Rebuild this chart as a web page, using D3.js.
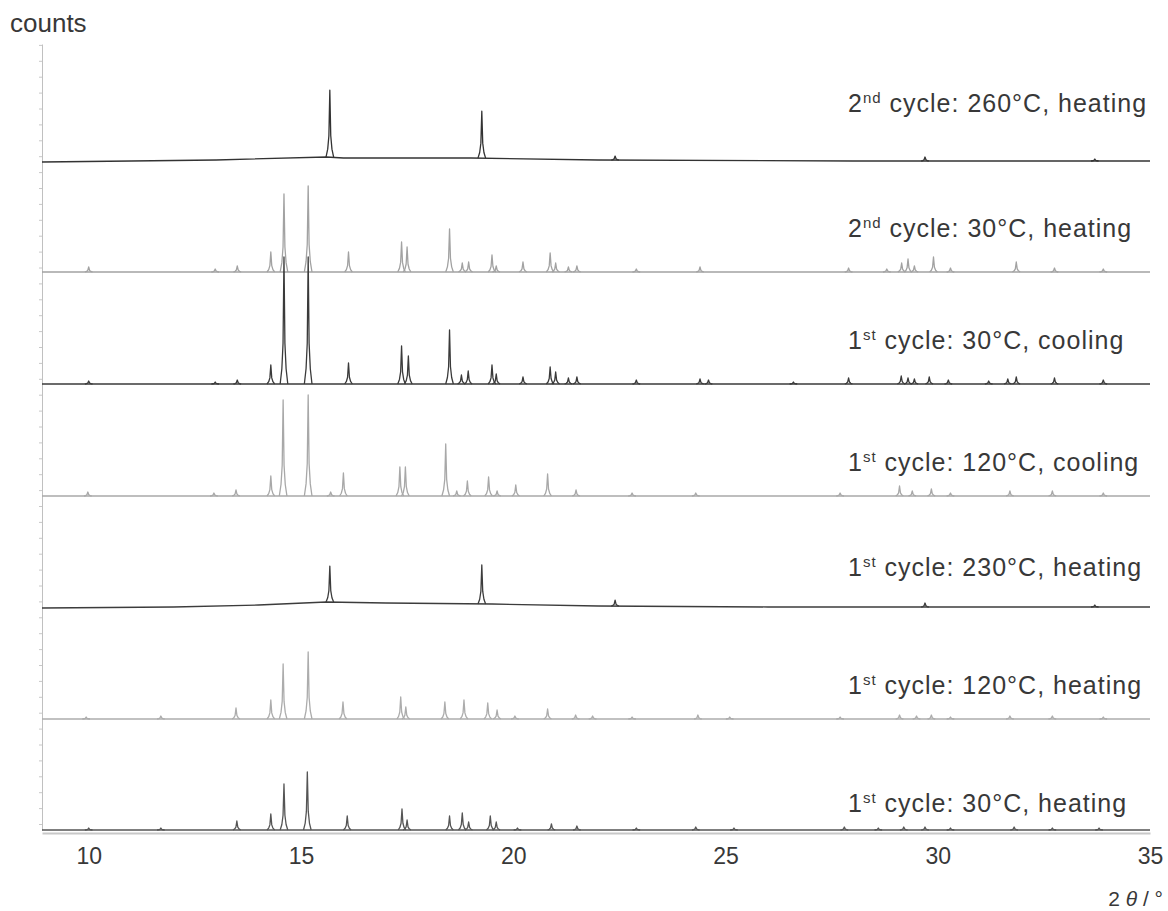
<!doctype html>
<html>
<head>
<meta charset="utf-8">
<style>
    body { margin: 0; background: #fff; }
    svg { display: block; }
    text { font-family: 'Liberation Sans', Arial, sans-serif; fill: #383838; }
    .label { font-size: 25px; letter-spacing: 1px; }
    .xaxis text { font-size: 23px; fill: #383838; }
    .xaxis path { stroke: #c8c8c8; stroke-width: 2; }
    .yaxis path { stroke: #c0c0c0; }
    .yaxis line { stroke: #c8c8c8; }
    .trace { fill: none; stroke-width: 1.3; stroke-linejoin: round; }
</style>
<script src="https://d3js.org/d3.v7.min.js"></script>
</head>
<body>
<svg width="1168" height="911"></svg>
<script>
    // x axis ticks (2 theta, degrees)
    const xTicks = [10, 15, 20, 25, 30, 35]

    // label text, top trace first
    const cycleNo  = ['2', '2', '1', '1', '1', '1', '1']
    const ordinal  = ['nd', 'nd', 'st', 'st', 'st', 'st', 'st']
    const condition = [' cycle: 260°C, heating', ' cycle: 30°C, heating', ' cycle: 30°C, cooling',
                       ' cycle: 120°C, cooling', ' cycle: 230°C, heating', ' cycle: 120°C, heating',
                       ' cycle: 30°C, heating']

    // vertical offset of each pattern and where its label sits (counts)
    const offsets = [670, 558, 446, 334, 223, 111, 0]
    const labelLevels = [718, 593, 481, 359, 254, 136, 18]

    // peaks: [2theta, height above baseline]
    const p260h2 = [[15.68, 67], [19.26, 47], [22.4, 4], [29.7, 4], [33.7, 2]]
    const p30h2 = [[10.0, 5], [12.98, 3], [13.5, 6], [14.29, 20], [14.6, 78], [15.17, 86], [16.12, 20],
        [17.37, 30], [17.5, 25], [18.5, 43], [18.8, 9], [18.95, 10], [19.5, 17], [19.6, 6], [20.23, 10],
        [20.87, 19], [21.0, 9], [21.3, 5], [21.5, 6], [22.9, 3], [24.4, 5], [27.9, 4], [28.8, 3],
        [29.15, 9], [29.3, 13], [29.45, 6], [29.9, 15], [30.3, 4], [31.85, 10], [32.75, 4], [33.9, 3]]
    const p30c1 = [[10.0, 3], [12.98, 2], [13.5, 4], [14.29, 19], [14.6, 127], [15.17, 127], [16.12, 21],
        [17.37, 38], [17.53, 28], [18.5, 54], [18.78, 9], [18.94, 13], [19.5, 19], [19.6, 10], [20.23, 7],
        [20.87, 17], [21.0, 12], [21.3, 6], [21.5, 7], [22.9, 4], [24.4, 5], [24.6, 4], [26.6, 2],
        [27.9, 6], [29.14, 8], [29.3, 6], [29.45, 5], [29.8, 7], [30.25, 4], [31.2, 3], [31.65, 5],
        [31.85, 7], [32.75, 6], [33.9, 4]]
    const p120c1 = [[9.98, 4], [12.95, 3], [13.47, 6], [14.29, 20], [14.58, 96], [15.17, 101], [15.7, 4],
        [16.0, 23], [17.33, 29], [17.46, 29], [18.41, 52], [18.67, 5], [18.92, 15], [19.42, 19], [19.62, 5],
        [20.06, 11], [20.81, 22], [21.48, 6], [22.8, 3], [24.3, 3], [27.7, 3], [29.1, 10], [29.4, 5],
        [29.85, 7], [30.3, 3], [31.7, 5], [32.7, 5], [33.9, 3]]
    const p230h1 = [[15.68, 36], [19.26, 39], [22.4, 6], [29.7, 4], [33.7, 2]]
    const p120h1 = [[9.94, 2], [11.7, 3], [13.47, 11], [14.29, 19], [14.58, 55], [15.17, 67], [15.99, 17],
        [17.35, 22], [17.47, 12], [18.39, 17], [18.84, 19], [19.4, 16], [19.62, 9], [20.04, 3], [20.81, 10],
        [21.47, 4], [21.87, 3], [22.8, 2], [24.35, 4], [25.1, 2], [27.7, 2], [29.1, 4], [29.5, 3],
        [29.85, 4], [30.3, 2], [31.7, 3], [32.7, 3], [33.9, 2]]
    const p30h1 = [[10.0, 2], [11.7, 2], [13.49, 9], [14.29, 16], [14.6, 46], [15.15, 58], [16.09, 14],
        [17.38, 21], [17.5, 10], [18.5, 14], [18.8, 17], [18.95, 8], [19.46, 14], [19.6, 8], [20.1, 2],
        [20.9, 6], [21.5, 4], [22.9, 2], [24.3, 3], [25.2, 2], [27.8, 3], [28.6, 2], [29.2, 3], [29.7, 3],
        [30.3, 2], [31.8, 3], [32.7, 2], [33.8, 2]]

    // background drift: [2theta, counts above offset]
    const bg260h2 = [[8.9, -2], [11, -1], [13, 0], [15.6, 3], [16, 2], [19, 2], [22, 0], [28, -1], [35, -1]]
    const bg230h1 = [[8.9, -1], [12, 0], [14, 2], [15.6, 5], [17, 4], [19.5, 3], [22, 1], [26, 0], [35, 0]]
    const bgFlat = [[8.9, 0], [35, 0]]

    const peaks = [p260h2, p30h2, p30c1, p120c1, p230h1, p120h1, p30h1]
    const backgrounds = [bg260h2, bgFlat, bgFlat, bgFlat, bg230h1, bgFlat, bgFlat]

    const traceColors = ['#333', '#a2a2a2', '#3a3a3a', '#a8a8a8', '#3c3c3c', '#acacac', '#555']

    const svg = d3.select('svg')

    const x = d3.scaleLinear().domain([8.9, 35]).range([42, 1150])
    const y = d3.scaleLinear().domain([0, 786]).range([830, 44])

    // y axis: plain line with small ticks, no labels
    svg.append('g')
        .attr('class', 'yaxis')
        .attr('transform', `translate(${x(8.9)}, 0)`)
        .call(d3.axisLeft(y).tickValues(d3.range(6, 787, 15.9)).tickSize(3).tickSizeOuter(0).tickFormat(''))

    // x axis
    const xAxis = svg.append('g')
        .attr('class', 'xaxis')
        .attr('transform', `translate(0, ${y(-3)})`)
        .call(d3.axisBottom(x).tickValues(xTicks).tickSize(0).tickSizeOuter(0).tickPadding(15))
    xAxis.selectAll('text').attr('font-family', null)

    const line = d3.line().x(d => x(d[0])).y(d => y(d[1]))

    peaks.forEach((pk, i) => {
        const off = offsets[i]
        const bg = backgrounds[i]
        const drift = d3.scaleLinear().domain(bg.map(d => d[0])).range(bg.map(d => d[1]))
        const g = svg.append('g').attr('stroke', traceColors[i])

        g.append('path')
            .attr('class', 'trace')
            .attr('d', line(bg.map(d => [d[0], off + d[1]])))

        g.selectAll('.peak')
            .data(pk)
            .join('path')
            .attr('class', 'trace peak')
            .attr('d', d => {
                const b = off + drift(d[0])
                return line([[d[0] - 0.09, b], [d[0] - 0.05, b + 0.12 * d[1]], [d[0] - 0.022, b + 0.32 * d[1]],
                    [d[0], b + d[1]], [d[0] + 0.022, b + 0.32 * d[1]], [d[0] + 0.05, b + 0.12 * d[1]],
                    [d[0] + 0.09, b]])
            })
    })

    // labels
    const labels = svg.append('g')
    offsets.forEach((o, i) => {
        const t = labels.append('text')
            .attr('class', 'label')
            .attr('x', 848)
            .attr('y', y(labelLevels[i]))
        t.append('tspan').text(cycleNo[i])
        t.append('tspan').attr('font-size', 15).attr('dy', -9).text(ordinal[i])
        t.append('tspan').attr('dy', 9).text(condition[i])
    })

    svg.append('text')
        .attr('x', 10)
        .attr('y', 32)
        .attr('font-size', 26)
        .text('counts')

    const xl = svg.append('text')
        .attr('x', 1163)
        .attr('y', 906)
        .attr('font-size', 21)
        .attr('text-anchor', 'end')
    xl.append('tspan').text('2 ')
    xl.append('tspan').attr('font-style', 'italic').text('θ')
    xl.append('tspan').text(' / °')
</script>
</body>
</html>
